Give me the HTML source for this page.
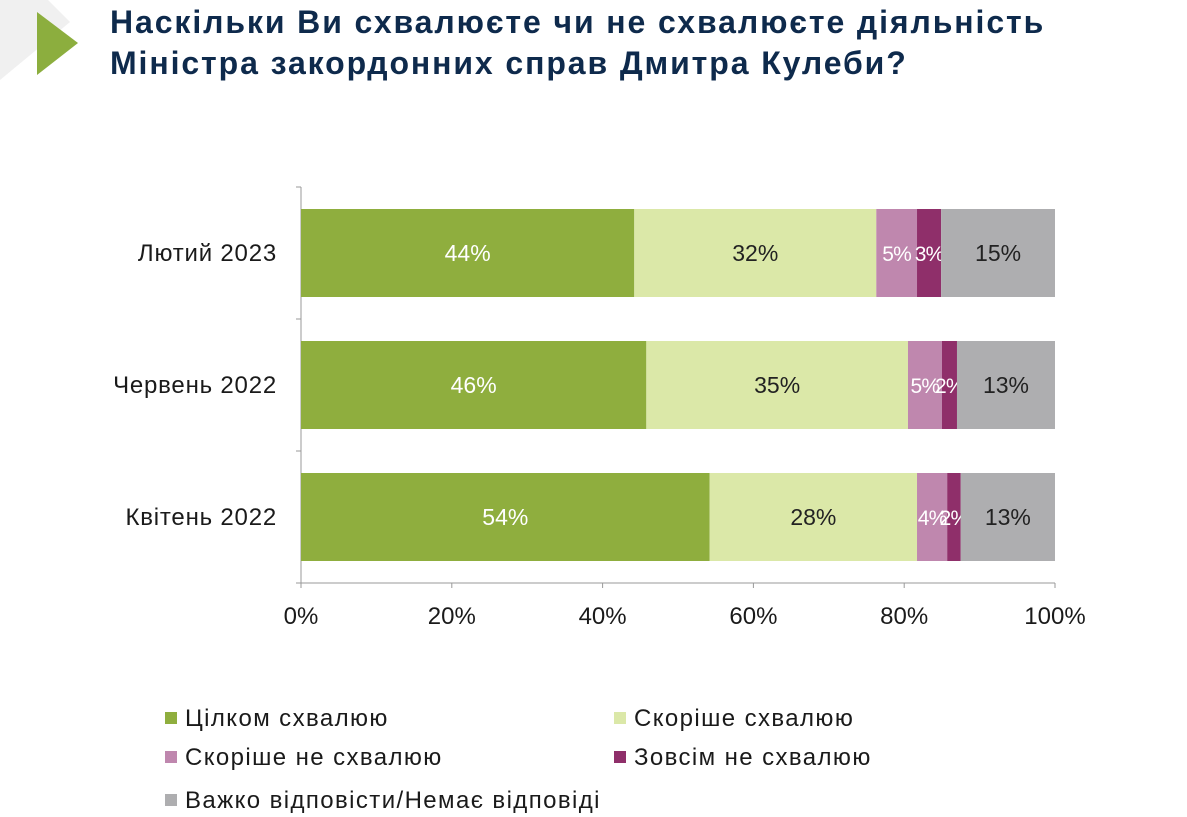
<!DOCTYPE html>
<html><head><meta charset="utf-8">
<style>
body{margin:0;width:1187px;height:817px;background:#fff;overflow:hidden;font-family:"Liberation Sans","DejaVu Sans",sans-serif;}
#title{position:absolute;left:110px;top:2px;font-size:32px;font-weight:bold;color:#0e2a4c;line-height:41px;letter-spacing:1.9px;white-space:nowrap;}
svg{position:absolute;left:0;top:0;}
</style></head><body>
<svg width="1187" height="817">
<polygon points="0,0 48,0 70,22 0,80" fill="#f0f0f0"/>
<polygon points="37,12 37,75 78,43" fill="#8cae3e"/>
<g id="plot"></g>
</svg>
<div id="title">Наскільки Ви схвалюєте чи не схвалюєте діяльність<br>Міністра закордонних справ Дмитра Кулеби?</div>
<script>
const categories=["Лютий 2023","Червень 2022","Квітень 2022"];
const s1=[44.2,45.8,54.2];
const s2=[32.1,34.7,27.5];
const s3=[5.4,4.5,4.0];
const s4=[3.2,2.0,1.8];
const s5=[15.1,13.0,12.5];
const seriesNames=["Цілком схвалюю","Скоріше схвалюю","Скоріше не схвалюю","Зовсім не схвалюю","Важко відповісти/Немає відповіді"];
const ticks=[0,20,40,60,80,100];
const series=[s1,s2,s3,s4,s5];
const colors=["#8fae3e","#dbe8a8","#bf87ae","#8f2f6a","#aeaeb0"];
const labelColors=["#fff","#222","#fff","#fff","#222"];
const ns="http://www.w3.org/2000/svg";
const g=document.getElementById('plot');
const x0=301,x1=1055,yTop=187,yBot=583;
const X=v=>x0+v/100*(x1-x0);
const band=(yBot-yTop)/categories.length;
function mk(t,a){const e=document.createElementNS(ns,t);for(const k in a)e.setAttribute(k,a[k]);g.appendChild(e);return e;}
let ax=mk('line',{x1:x0,y1:yTop,x2:x0,y2:yBot,stroke:'#999'});


let bx=mk('line',{x1:x0,y1:yBot,x2:x1,y2:yBot,stroke:'#999'});


for(let i=0;i<=categories.length;i++){const y=yTop+i*band;const t=mk('line',{x1:x0-5,y1:y,x2:x0,y2:y,stroke:'#999'});

}
ticks.forEach(v=>{const t=mk('line',{x1:X(v),y1:yBot,x2:X(v),y2:yBot+5,stroke:'#999'});


const l=mk('text',{x:X(v),y:yBot+41,'text-anchor':'middle','font-size':24,fill:'#1a1a1a'});l.textContent=v+'%';

});
categories.forEach((c,i)=>{const yc=yTop+band*(i+0.5);
const l=mk('text',{x:277,y:yc+8,'text-anchor':'end','font-size':24,'letter-spacing':0.8,fill:'#1a1a1a'});l.textContent=c;


let acc=0;series.forEach((s,j)=>{const v=s[i];
const r=mk('rect',{x:X(acc),y:yc-44,width:X(acc+v)-X(acc),height:88,fill:colors[j]});


const small=v<7;
const t=mk('text',{x:(X(acc)+X(acc+v))/2,y:yc+8,'text-anchor':'middle','font-size':small?21:23,'letter-spacing':small?-0.8:0,fill:labelColors[j]});t.textContent=Math.round(v)+'%';


acc+=v;});});
const legPos=[[165,726],[614,726],[165,765],[614,765],[165,808]];
seriesNames.forEach((n,j)=>{const [lx,ly]=legPos[j];
const r=mk('rect',{x:lx,y:ly-14,width:12,height:12,fill:colors[j]});


const t=mk('text',{x:lx+20,y:ly,'font-size':24,'letter-spacing':1.4,fill:'#1a1a1a'});t.textContent=n;

});
</script>
</body></html>
